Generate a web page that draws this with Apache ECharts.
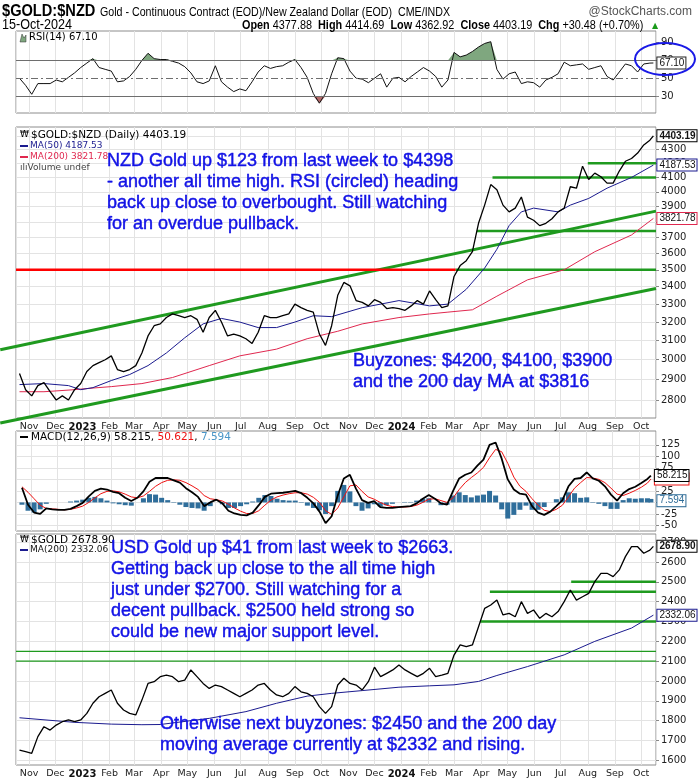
<!DOCTYPE html>
<html><head><meta charset="utf-8">
<script src="https://cdn.jsdelivr.net/npm/echarts@6/dist/echarts.min.js"></script>
<style>html,body{margin:0;padding:0;background:#fff}#c{width:700px;height:780px}</style>
</head><body><div id="c"></div>
<script>
// ---- categories: weekly closes (Fridays) plus the last session ----
const dates = [];
for (let t = Date.UTC(2022, 9, 21); t <= Date.UTC(2024, 9, 11); t += 7 * 86400000) dates.push(new Date(t).toISOString().slice(0, 10));
dates.push('2024-10-15');
const X0 = '2022-10-17', X1 = '2024-10-18';

// ---- $GOLD:$NZD ----
const nzdClose = [2930,2850,2820,2870,2885,2840,2800,2820,2800,2850,
 2880,2940,2970,2985,3000,3020,2950,2940,2950,2970,
 3035,3125,3180,3190,3225,3245,3235,3225,3235,3215,
 3145,3225,3265,3200,3125,3135,3125,3110,3085,3145,
 3235,3225,3225,3235,3245,3300,3280,3265,3255,3135,
 3075,3180,3350,3425,3405,3320,3310,3290,3325,3310,
 3275,3280,3275,3265,3290,3320,3300,3375,3325,3280,
 3290,3460,3525,3555,3610,3790,3910,4050,4015,3910,
 3865,3890,3965,3830,3810,3775,3790,3820,3865,3890,
 4035,4025,4180,4085,4130,4105,4060,4060,4145,4215,
 4235,4275,4335,4370,4403.19];
const nzdMa50 = [[0,2875],[4,2880],[8,2870],[10,2850],[12,2860],[15,2895],[18,2925],[21,2970],[24,3035],[27,3115],[30,3190],[33,3220],[36,3200],[39,3170],[42,3170],[45,3200],[48,3235],[51,3230],[56,3280],[62,3320],[67,3290],[70,3300],[73,3385],[76,3510],[78,3625],[80,3775],[82,3865],[84,3890],[88,3865],[90,3910],[93,3955],[96,4025],[100,4100],[104,4187.53]];
const nzdMa200 = [[0,2840],[4,2840],[9,2850],[12,2858],[15,2865],[20,2880],[25,2910],[31,2970],[36,3020],[42,3055],[47,3110],[52,3150],[56,3190],[62,3225],[67,3245],[70,3255],[74,3268],[78,3345],[83,3440],[89,3500],[94,3610],[100,3715],[104,3821.78]];
const nzdGreenLevels = [[4200,'2024-08-01'],[4100,'2024-04-14'],[3740,'2024-03-27'],[3500,'2024-03-03']];
const nzdRedLevel = [3500,'2022-10-17','2024-03-03'];
const nzdChannelUpper = [['2022-09-29',3052],['2024-10-18',3870]];
const nzdChannelLower = [['2022-09-29',2692],['2024-10-18',3390]];
const nzdTicks = [2800,2900,3000,3100,3200,3300,3400,3500,3600,3700,3800,3900,4000,4100,4200,4300,4400];

// ---- RSI(14) ----
const rsi = [50,42,32,44,44,44,48,46,51,56,
 62,67,72,62,60,58,46,47,52,60,
 70,78,72,71,71,69,67,63,56,46,
 44,47,64,46,40,35,38,36,46,57,
 64,61,63,64,68,71,62,51,33,22,
 33,55,73,72,58,50,49,45,50,55,
 40,50,51,46,52,57,62,58,52,40,
 48,79,74,76,80,85,89,91,60,49,
 55,57,44,46,45,40,48,51,55,68,
 64,65,66,60,62,64,52,48,57,66,
 64,57,66,67,67.10];
const rsiTicks = [30,50,70,90];

// ---- MACD(12,26,9) ----
const macd = [32,-5,-22,-25,-13,-15,-16,-16,-14,-8,
 -1,13,25,30,28,23,20,10,3,10,
 24,45,53,53,53,48,43,31,22,12,
 -8,0,6,-2,-18,-24,-27,-28,-22,-6,
 12,19,20,21,23,25,20,10,-2,-20,
 -45,-30,15,52,60,30,5,-1,3,-10,
 -12,-12,-10,-9,-8,-2,8,16,8,-2,
 -5,25,52,60,65,80,93,125,130,95,
 50,28,19,17,-8,-22,-27,-20,-8,5,
 35,51,53,65,52,47,35,17,4,20,
 29,34,42,51,58.215];
const signal = [34,22,8,-6,-13,-14,-15,-16,-15,-12,
 -8,0,10,19,24,25,23,18,12,10,
 14,24,35,43,48,49,48,43,36,28,
 15,8,6,3,-4,-12,-19,-24,-24,-18,
 -6,5,12,16,19,21,21,18,11,0,
 -18,-26,-12,12,36,38,24,12,7,0,
 -6,-9,-10,-10,-9,-6,0,7,8,4,
 0,10,28,43,54,64,76,97,115,110,
 85,55,35,24,8,-6,-17,-20,-15,-6,
 12,31,43,54,53,50,43,31,18,15,
 20,26,33,42,50.621];
const hist = [-5,-18,-22,-15,-3,0,0,0,2,4,
 6,10,12,9,4,-2,-4,-6,-7,0,
 9,18,17,10,5,-1,-5,-10,-12,-13,
 -18,-8,0,-4,-12,-12,-8,-4,2,10,
 16,14,8,5,4,4,-1,-7,-12,-17,
 -25,-8,25,38,24,-8,-18,-13,-4,-9,
 -6,-3,0,1,1,4,8,9,0,-6,
 -5,15,22,16,11,15,17,25,15,-15,
 -35,-27,-16,-7,-16,-16,-10,0,7,11,
 22,20,10,11,-1,-3,-8,-14,-14,5,
 9,8,9,9,7.594];
const macdTicks = [-50,-25,0,25,50,75,100,125];

// ---- $GOLD (USD) ----
const usdClose = [1652,1644,1636,1720,1770,1753,1778,1795,1804,1795,
 1804,1837,1888,1921,1938,1955,1888,1854,1837,1829,
 1904,1988,1997,2022,2030,2022,1997,2005,2056,2022,
 1988,1963,1980,1972,1955,1938,1921,1938,1955,1980,
 1988,1955,1930,1921,1938,1972,1946,1938,1921,1871,
 1837,1871,1980,2014,1988,1980,1955,1997,2070,2022,
 2039,2056,2081,2056,2039,2022,2039,2064,2022,2030,
 2039,2131,2182,2173,2182,2274,2366,2383,2408,2333,
 2341,2324,2400,2341,2358,2316,2341,2324,2350,2400,
 2459,2408,2425,2442,2501,2543,2543,2526,2560,2627,
 2677,2677,2644,2660,2678.90];
const usdMa200 = [[0,1815],[9,1792],[15,1783],[20,1780],[23,1781],[31,1812],[37,1846],[42,1888],[47,1924],[51,1938],[56,1952],[62,1969],[67,1976],[71,1981],[75,1998],[78,2028],[83,2073],[89,2132],[94,2200],[100,2267],[104,2332.06]];
const usdThickLevels = [[2500,'2024-07-13'],[2450,'2024-04-11'],[2300,'2024-03-31']];
const usdThinLevels = [2150,2100];
const usdTicks = [1600,1700,1800,1900,2000,2100,2200,2300,2400,2500,2600,2700];

// ---- build ----
const GREEN = '#1f9a1f', NAVY = '#1b1b8f', CRIMSON = '#e0284f', BLUE = '#1212e6';
const UI = 'DejaVu Sans';
const LIB = '"Liberation Sans", Arial, sans-serif';
const pts = arr => dates.map((d, i) => [d, arr[i]]);
const sparse = arr => arr.map(([i, v]) => [dates[i], v]);
const ser = (data, k, extra) => Object.assign({type: 'line', xAxisIndex: k, yAxisIndex: k, data, symbol: 'none', silent: true, z: 3}, extra);
const endLbl = (border, dec, bold, color) => ({show: true, distance: 4, formatter: p => p.value[1].toFixed(dec), fontSize: 10, fontFamily: LIB,
  fontWeight: bold ? 'bold' : 'normal', color: color || '#111', backgroundColor: '#fff', borderColor: border, borderWidth: 1, padding: [1, 1, 0, 2]});
const xAx = (gi, show) => ({type: 'time', gridIndex: gi, min: X0, max: X1, splitNumber: 24, minInterval: 28 * 864e5, maxInterval: 31 * 864e5,
  axisLine: {show: false}, axisTick: {show: false}, splitLine: {show: true, lineStyle: {color: '#e3e3e3', width: 1}},
  axisLabel: {show: show, fontSize: 9.5, fontFamily: UI, color: '#222', margin: 4, hideOverlap: false,
    formatter: {year: '{yr|{yyyy}}', month: '{MMM}', day: ''}, rich: {yr: {fontWeight: 'bold', fontSize: 10, fontFamily: UI, color: '#111'}}}});
const yAx = (gi, type, min, max, ticks, grid) => ({type, gridIndex: gi, position: 'right', min, max, logBase: 10,
  axisLine: {show: false}, axisTick: {show: true, length: 3, lineStyle: {color: '#888'}, customValues: ticks},
  axisLabel: {fontSize: 10, fontFamily: UI, color: '#222', margin: 5, customValues: ticks, formatter: v => String(Math.round(v))},
  splitLine: {show: grid, lineStyle: {color: '#e3e3e3', width: 1}}});
const gridBox = (top, height) => ({left: 16, right: 44, top, height, show: true, borderColor: '#8c8c8c', borderWidth: 1, backgroundColor: 'transparent'});

const series = [];
// RSI
series.push(ser(dates.map((d, i) => [d, Math.max(rsi[i], 70)]), 0, {lineStyle: {width: 0}, areaStyle: {origin: 70, color: '#7fa77f', opacity: 1}, z: 2}));
series.push(ser(dates.map((d, i) => [d, Math.min(rsi[i], 30)]), 0, {lineStyle: {width: 0}, areaStyle: {origin: 30, color: '#b46a6a', opacity: 1}, z: 2}));
series.push(ser(pts(rsi), 0, {lineStyle: {color: '#111', width: 1}, endLabel: endLbl('#222', 2, false),
  markLine: {silent: true, symbol: 'none', label: {show: false}, data: [
    {yAxis: 70, lineStyle: {color: '#6e6e6e', type: 'solid', width: 1}},
    {yAxis: 30, lineStyle: {color: '#6e6e6e', type: 'solid', width: 1}},
    {yAxis: 50, lineStyle: {color: '#6e6e6e', type: [7, 3, 2, 3], width: 1}}]}}));
// NZD
series.push(ser([[nzdRedLevel[1], nzdRedLevel[0]], [nzdRedLevel[2], nzdRedLevel[0]]], 1, {lineStyle: {color: '#ff0000', width: 2.5}, z: 2}));
nzdGreenLevels.forEach(([v, from]) => series.push(ser([[from, v], [X1, v]], 1, {lineStyle: {color: GREEN, width: 2.5}, z: 2})));
series.push(ser(sparse(nzdMa200), 1, {lineStyle: {color: CRIMSON, width: 1}, endLabel: endLbl(CRIMSON, 2, false), z: 4}));
series.push(ser(sparse(nzdMa50), 1, {lineStyle: {color: NAVY, width: 1}, endLabel: endLbl(NAVY, 2, false), z: 4}));
series.push(ser(pts(nzdClose), 1, {lineStyle: {color: '#000', width: 1.3}, endLabel: endLbl('#000', 2, true), z: 5}));
// MACD
const histData = pts(hist);
histData[histData.length - 1] = {value: histData[histData.length - 1], label: {show: true, position: 'right', distance: 4, formatter: p => p.value[1].toFixed(3),
  fontSize: 10, fontFamily: LIB, color: '#2d6b96', backgroundColor: '#fff', borderColor: '#2d6b96', borderWidth: 1, padding: [1, 1, 0, 2]}};
series.push({type: 'bar', xAxisIndex: 2, yAxisIndex: 2, data: histData, barWidth: 5, itemStyle: {color: '#2f6e9b'}, silent: true, z: 2});
series.push(ser(pts(signal), 2, {lineStyle: {color: '#ee1111', width: 1}, endLabel: endLbl('#ee1111', 3, false), z: 3}));
series.push(ser(pts(macd), 2, {lineStyle: {color: '#000', width: 1.8}, endLabel: endLbl('#000', 3, false), z: 4}));
// USD
usdThinLevels.forEach(v => series.push(ser([[X0, v], [X1, v]], 3, {lineStyle: {color: GREEN, width: 1.3}, z: 2})));
usdThickLevels.forEach(([v, from]) => series.push(ser([[from, v], [X1, v]], 3, {lineStyle: {color: GREEN, width: 2.5}, z: 2})));
series.push(ser(sparse(usdMa200), 3, {lineStyle: {color: NAVY, width: 1}, endLabel: endLbl(NAVY, 2, false), z: 4}));
series.push(ser(pts(usdClose), 3, {lineStyle: {color: '#000', width: 1.3}, endLabel: endLbl('#000', 2, true), z: 5}));

const chart = echarts.init(document.getElementById('c'));
chart.setOption({
  animation: false,
  backgroundColor: '#fff',
  grid: [gridBox(31, 82), gridBox(127, 291), gridBox(431, 100), gridBox(534, 231)],
  xAxis: [xAx(0, false), xAx(1, true), xAx(2, false), xAx(3, true)],
  yAxis: [
    yAx(0, 'value', 11, 103, rsiTicks, false),
    yAx(1, 'log', 2715, 4470, nzdTicks, true),
    yAx(2, 'value', -62, 155, macdTicks, true),
    yAx(3, 'value', 1577, 2741, usdTicks, true)
  ],
  series
});

// channel trend lines run past the left frame, so they are placed with the chart's own scale conversion
const toPx = p => chart.convertToPixel({xAxisIndex: 1, yAxisIndex: 1}, p);
const channel = seg => {
  const a = toPx(seg[0]), b = toPx(seg[1]);
  return {type: 'line', z: 1, silent: true, shape: {x1: a[0], y1: a[1], x2: b[0], y2: b[1]}, style: {stroke: GREEN, lineWidth: 3}};
};

const T = (x, y, text, font, fill, extra) => Object.assign({type: 'text', x, y, z: 100, silent: true,
  style: Object.assign({text, font, fill: fill || '#000', textVerticalAlign: 'middle', verticalAlign: 'middle'}, extra || {})});
const dash = (x, y, color) => ({type: 'line', z: 100, silent: true, shape: {x1: x, y1: y, x2: x + 8, y2: y}, style: {stroke: color, lineWidth: 2}});
const ANN = '18px "Liberation Sans", Arial, sans-serif';
const annStyle = {lineHeight: 21, textVerticalAlign: 'top', verticalAlign: 'top', stroke: BLUE, lineWidth: 0.45};
const graphic = [
  channel(nzdChannelUpper), channel(nzdChannelLower),
  Object.assign(T(2, 11, '$GOLD:$NZD', 'bold 17px ' + LIB), {scaleX: 0.86, originX: 0}),
  Object.assign(T(100, 12, 'Gold - Continuous Contract (EOD)/New Zealand Dollar (EOD)  CME/INDX', '13px ' + LIB), {scaleX: 0.82, originX: 0}),
  T(692, 12, '@StockCharts.com', '12px ' + LIB, '#555', {textAlign: 'right', align: 'right'}),
  Object.assign(T(2, 25, '15-Oct-2024', '14px ' + LIB), {scaleX: 0.9, originX: 0}),
  {type: 'text', x: 242, y: 25, z: 100, silent: true, scaleX: 0.835, originX: 0,
    style: {text: '{b|Open} 4377.88  {b|High} 4414.69  {b|Low} 4362.92  {b|Close} 4403.19  {b|Chg} +30.48 (+0.70%)',
    fontSize: 13, fontFamily: LIB, fill: '#000', textVerticalAlign: 'middle', verticalAlign: 'middle',
    rich: {b: {fontWeight: 'bold', fontSize: 13, fontFamily: LIB}}}},
  T(652, 26, '▲', '8px ' + UI, '#1a9a1a'),
  // RSI legend
  {type: 'polygon', z: 100, silent: true, shape: {points: [[20, 42], [22, 34], [24, 38], [26, 35], [26, 42]]}, style: {fill: '#7fa77f', stroke: '#333', lineWidth: 0.5}},
  T(29, 37, 'RSI(14) 67.10', '10px ' + UI),
  {type: 'ellipse', z: 100, silent: true, shape: {cx: 665, cy: 59, rx: 30, ry: 16}, style: {fill: 'none', stroke: '#1a1ae6', lineWidth: 2}},
  // main legend
  T(20, 135, '₩', '9px ' + UI),
  T(31, 135, '$GOLD:$NZD (Daily) 4403.19', '10.5px ' + UI),
  dash(20, 146, NAVY), T(30, 146, 'MA(50) 4187.53', '9px ' + UI, NAVY),
  dash(20, 157, CRIMSON), T(30, 157, 'MA(200) 3821.78', '9px ' + UI, CRIMSON),
  T(20, 168, 'ılıVolume undef', '9px ' + UI, '#444'),
  T(107, 150.5, 'NZD Gold up $123 from last week to $4398\n- another all time high. RSI (circled) heading\nback up close to overbought. Still watching\nfor an overdue pullback.', ANN, BLUE, annStyle),
  T(353, 351, 'Buyzones: $4200, $4100, $3900\nand the 200 day MA at $3816', ANN, BLUE, annStyle),
  // MACD legend
  dash(20, 437, '#000'),
  {type: 'text', x: 31, y: 437, z: 100, silent: true, style: {text: 'MACD(12,26,9) 58.215, {r|50.621}, {b|7.594}', fontSize: 10.5, fontFamily: UI, fill: '#000',
    textVerticalAlign: 'middle', verticalAlign: 'middle', rich: {r: {fill: '#ee1111', color: '#ee1111', fontSize: 10.5, fontFamily: UI}, b: {fill: '#4a96c8', color: '#4a96c8', fontSize: 10.5, fontFamily: UI}}}},
  // USD legend
  T(20, 540, '₩', '9px ' + UI),
  T(31, 540, '$GOLD 2678.90', '10.5px ' + UI),
  dash(20, 550, NAVY), T(30, 550, 'MA(200) 2332.06', '9px ' + UI, '#111'),
  T(111, 537.5, 'USD Gold up $41 from last week to $2663.\nGetting back up close to the all time high\njust under $2700. Still watching for a\ndecent pullback. $2500 held strong so\ncould be new major support level.', ANN, BLUE, annStyle),
  T(160, 714, 'Otherwise next buyzones: $2450 and the 200 day\nmoving average currently at $2332 and rising.', ANN, BLUE, annStyle)
];
chart.setOption({graphic});
</script></body></html>
